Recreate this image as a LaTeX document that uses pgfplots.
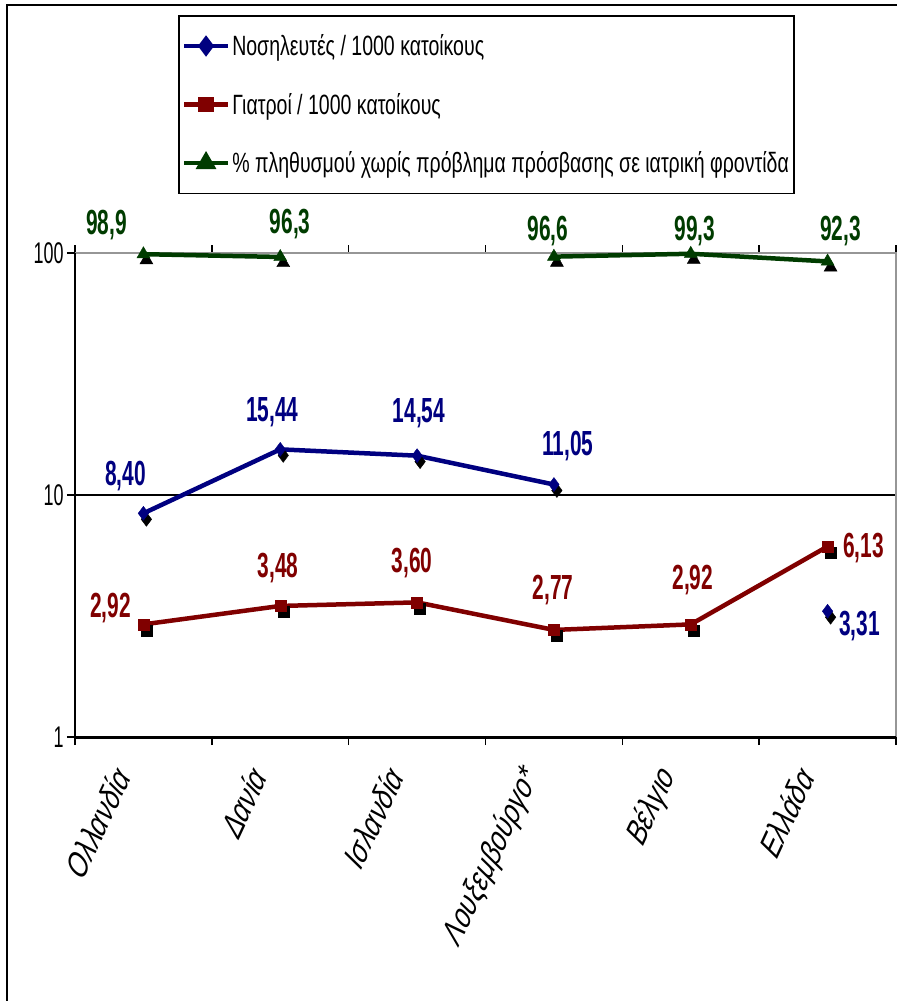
\documentclass[border=0pt]{standalone}
\usepackage{fontspec}
\setmainfont{Liberation Sans}[FakeStretch=0.6]
\newfontfamily\catfont{Liberation Sans}[FakeStretch=0.85,FakeSlant=0.35]
\newfontfamily\legfont{Liberation Sans}[FakeStretch=0.7]
\usepackage{pgfplots}
\usepackage{pgfplotstable}
\pgfplotsset{compat=1.18}
\definecolor{cblue}{RGB}{0,0,128}
\definecolor{cred}{RGB}{128,0,0}
\definecolor{cgreen}{RGB}{0,60,0}
\definecolor{cgray}{RGB}{150,150,150}

\pgfplotstableread{
x y lab dx dy
0 8.40 8,40 -18 37
1 15.44 15,44 -8 37
2 14.54 14,54 2 42
3 11.05 11,05 14 38
4 nan - 0 0
5 3.31 3,31 32 -15
}\nurses

\pgfplotstableread{
x y lab dx dy
0 2.92 2,92 -33 16
1 3.48 3,48 -2 38
2 3.60 3,60 -5 39
3 2.77 2,77 -1 40
4 2.92 2,92 2 44
5 6.13 6,13 36 -2
}\doctors

\pgfplotstableread{
x y lab dx dy
0 98.9 98,9 -37 29
1 96.3 96,3 10 33
2 nan - 0 0
3 96.6 96,6 -6 26
4 99.3 99,3 4 23
5 92.3 92,3 13 30
}\access

\pgfplotsset{
  lbl/.style={nodes near coords, point meta=explicit symbolic,
    visualization depends on={\thisrow{dx}\as\dx},
    visualization depends on={\thisrow{dy}\as\dy},
    every node near coord/.append style={font=\bfseries\fontsize{35}{35}\selectfont,
      text=#1, anchor=center, inner sep=0pt, xshift=\dx bp, yshift=\dy bp}},
  shadow/.style={black, only marks, forget plot, mark options={xshift=3bp, yshift=-6bp}},
}

\begin{document}
\begin{tikzpicture}
\path[use as bounding box] (0,0) rectangle (897bp,-1001bp);
\draw[black, line width=2.5bp] (7bp,-1001bp) -- (7bp,-5bp) -- (897bp,-5bp);
\begin{axis}[
  at={(75bp,-737bp)}, anchor=south west,
  scale only axis, width=821bp, height=484bp,
  ymode=log, ymin=1, ymax=100, xmin=-0.5, xmax=5.5,
  clip=false,
  axis line style={draw=none},
  ytick={1,10,100}, yticklabels={1,10,100}, yminorticks=false,
  /pgf/number format/assume math mode=true,
  xtick={-0.5,0.5,1.5,2.5,3.5,4.5,5.5}, x tick label as interval,
  xticklabels={Ολλανδία,Δανία,Ισλανδία,Λουξεμβούργο*,Βέλγιο,Ελλάδα},
  tick align=outside, major tick length=8bp,
  every tick/.style={black, line width=1.5bp},
  ymajorgrids, grid style={black, line width=1.5bp},
  yticklabel style={font=\fontsize{30}{30}\selectfont},
  xticklabel style={font=\catfont\fontsize{32}{32}\selectfont, xshift=-22bp, yshift=-26bp, rotate=65, anchor=east},
  unbounded coords=jump,
  legend style={at={(axis description cs:0.1255,1.4917)}, anchor=north west,
    draw=black, line width=1.5bp, font=\legfont\fontsize{28}{30}\selectfont,
    row sep=32bp, inner xsep=3bp, inner ysep=17bp},
  legend cell align=left,
  legend image code/.code={\draw[mark repeat=2,mark phase=2,#1] plot coordinates {(0bp,0bp) (22bp,0bp) (44bp,0bp)};},
]
\draw[cgray, line width=2bp] (rel axis cs:0,1) -- (rel axis cs:1,1) -- (rel axis cs:1,0);
\draw[black, line width=3bp] (rel axis cs:0,0) -- (rel axis cs:1,0);
\draw[black, line width=2bp] (rel axis cs:0,0) -- (rel axis cs:0,1);

% nurses
\addplot[cblue, line width=4.5bp, no markers, forget plot] table[x=x,y=y]{\nurses};
\addplot[shadow, mark=diamond*, mark size=7bp] table[x=x,y=y]{\nurses};
\addplot[cblue, only marks, forget plot, mark=diamond*, mark size=7bp, lbl=cblue] table[x=x,y=y,meta=lab]{\nurses};
% doctors
\addplot[cred, line width=4.5bp, no markers, forget plot] table[x=x,y=y]{\doctors};
\addplot[shadow, mark=square*, mark size=5.5bp] table[x=x,y=y]{\doctors};
\addplot[cred, only marks, forget plot, mark=square*, mark size=5.5bp, lbl=cred] table[x=x,y=y,meta=lab]{\doctors};
% access
\addplot[cgreen, line width=4.5bp, no markers, forget plot] table[x=x,y=y]{\access};
\addplot[shadow, mark=triangle*, mark size=7.5bp] table[x=x,y=y]{\access};
\addplot[cgreen, only marks, forget plot, mark=triangle*, mark size=7.5bp, lbl=cgreen] table[x=x,y=y,meta=lab]{\access};

\addlegendimage{cblue, line width=4.5bp, mark=diamond*, mark size=7bp}
\addlegendentry{Νοσηλευτές / 1000 κατοίκους}
\addlegendimage{cred, line width=4.5bp, mark=square*, mark size=5.5bp}
\addlegendentry{Γιατροί / 1000 κατοίκους}
\addlegendimage{cgreen, line width=4.5bp, mark=triangle*, mark size=7.5bp}
\addlegendentry{\% πληθυσμού χωρίς πρόβλημα πρόσβασης σε ιατρική φροντίδα}
\end{axis}
\end{tikzpicture}
\end{document}
